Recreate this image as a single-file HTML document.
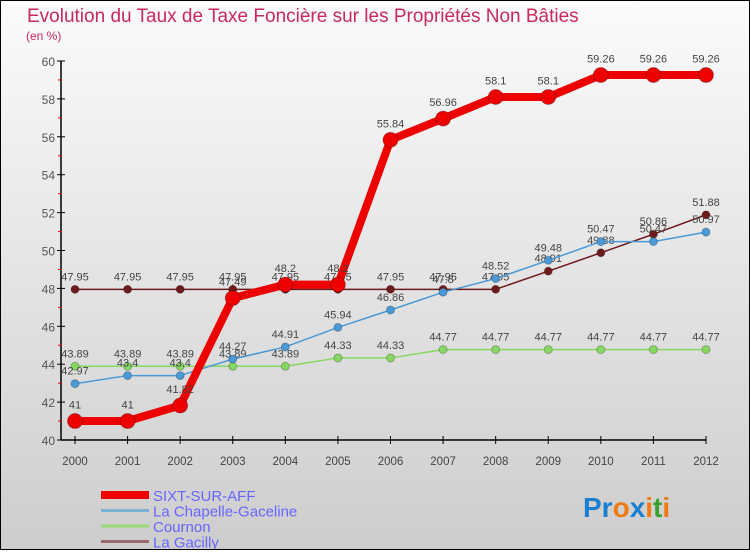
<!DOCTYPE html>
<html><head><meta charset="utf-8">
<style>
html,body{margin:0;padding:0;}
body{width:750px;height:550px;overflow:hidden;font-family:"Liberation Sans",sans-serif;}
#wrap{position:relative;width:748px;height:548px;border:1px solid #000;background:linear-gradient(#fbfbfb,#cdcdcd);}
</style></head>
<body>
<div id="wrap">
<svg id="chart" width="748" height="548" xmlns="http://www.w3.org/2000/svg">
<text x="26" y="21" font-size="19" fill="#c8285a">Evolution du Taux de Taxe Foncière sur les Propriétés Non Bâties</text>
<text x="25" y="39" font-size="12" fill="#c8285a">(en %)</text>
<g id="axes"></g>
<g id="series"></g>
<g id="legend"></g>
<text x="582" y="516" font-size="28" font-weight="bold"><tspan fill="#1a7fd0">Pr</tspan><tspan fill="#f07a10">o</tspan><tspan fill="#1a7fd0">x</tspan><tspan fill="#f07a10">i</tspan><tspan fill="#3aa030">t</tspan><tspan fill="#f07a10">i</tspan></text>
</svg>
</div>
<script>
const years = [2000,2001,2002,2003,2004,2005,2006,2007,2008,2009,2010,2011,2012];
const yTicks = [40,42,44,46,48,50,52,54,56,58,60];
const sixtValues = [41,41,41.82,47.49,48.2,48.2,55.84,56.96,58.1,58.1,59.26,59.26,59.26];
const chapelleValues = [42.97,43.4,43.4,44.27,44.91,45.94,46.86,47.8,48.52,49.48,50.47,50.47,50.97];
const cournonValues = [43.89,43.89,43.89,43.89,43.89,44.33,44.33,44.77,44.77,44.77,44.77,44.77,44.77];
const gacillyValues = [47.95,47.95,47.95,47.95,47.95,47.95,47.95,47.95,47.95,48.91,49.88,50.86,51.88];
const seriesNames = ["SIXT-SUR-AFF","La Chapelle-Gaceline","Cournon","La Gacilly"];

const NS="http://www.w3.org/2000/svg";
const X0=74, X1=705, Y0=439, Y1=60, VMIN=40, VMAX=60;
function xScale(i){return X0+(X1-X0)*i/(years.length-1);}
function yScale(v){return Y0-(Y0-Y1)*(v-VMIN)/(VMAX-VMIN);}
function mk(tag,attrs,parent){const e=document.createElementNS(NS,tag);for(const k in attrs)e.setAttribute(k,attrs[k]);parent.appendChild(e);return e;}

const axes=document.getElementById('axes');
let ax=mk('line',{x1:60,y1:Y1,x2:60,y2:Y0,stroke:'#000','stroke-width':1.5},axes);


let bx=mk('line',{x1:60,y1:Y0,x2:X1,y2:Y0,stroke:'#000','stroke-width':1.5},axes);


yTicks.forEach(v=>{
  const y=yScale(v);
  mk('line',{x1:56,y1:y,x2:64,y2:y,stroke:'#000'},axes);
  const t=mk('text',{x:54,y:y+5,'font-size':12,fill:'#555','text-anchor':'end'},axes);
  t.textContent=v;
  
  
  if(v<VMAX){const ym=yScale(v+1);mk('line',{x1:57,y1:ym,x2:61,y2:ym,stroke:'#d00'},axes);}
});
years.forEach((yr,i)=>{
  const x=xScale(i);
  mk('line',{x1:x,y1:Y0-4,x2:x,y2:Y0+4,stroke:'#000'},axes);
  const t=mk('text',{x:x,y:Y0+25,'font-size':11.5,fill:'#444','text-anchor':'middle'},axes);
  t.textContent=yr;
  
  
});

const ser=document.getElementById('series');
const defs=[
  {vals:gacillyValues,color:'#6e1a1a',w:1.5,r:4,name:'series-la-gacilly'},
  {vals:cournonValues,color:'#86d860',w:1.5,r:4,name:'series-cournon'},
  {vals:chapelleValues,color:'#4a9ad8',w:1.5,r:4,name:'series-la-chapelle-gaceline'},
  {vals:sixtValues,color:'#ee0000',w:8,r:7.5,name:'series-sixt-sur-aff'}
];
defs.forEach(d=>{
  const g=mk('g',{},ser);
  
  
  const pts=d.vals.map((v,i)=>xScale(i)+','+yScale(v)).join(' ');
  mk('polyline',{points:pts,fill:'none',stroke:d.color,'stroke-width':d.w,'stroke-linejoin':'round'},g);
  d.vals.forEach((v,i)=>{
    const c=mk('circle',{cx:xScale(i),cy:yScale(v),r:d.r,fill:d.color,stroke:'rgba(0,0,0,0.25)','stroke-width':1},g);
    
    
    const t=mk('text',{x:xScale(i),y:yScale(v)-(d.r+5),'font-size':11,fill:'#444','text-anchor':'middle'},g);
    t.textContent=v;
    
    
  });
});

const leg=document.getElementById('legend');
const legColors=['#ee0000','#7ab0d0','#98d878','#9a6a6a'];
const legW=[8,3,3,3];
seriesNames.forEach((n,i)=>{
  const y=495+i*15.5;
  const g=mk('g',{},leg);
  
  
  mk('line',{x1:100,y1:y-1,x2:148,y2:y-1,stroke:legColors[i],'stroke-width':legW[i]},g);
  const t=mk('text',{x:152,y:y+5,'font-size':15,fill:'#6666ff'},g);
  t.textContent=n;
});
</script>
</body></html>
